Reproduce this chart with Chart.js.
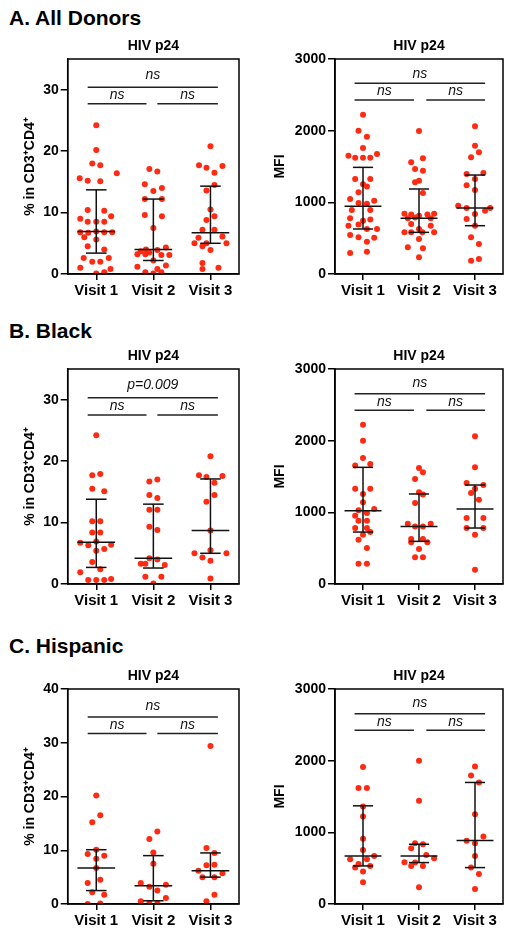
<!DOCTYPE html>
<html>
<head>
<meta charset="utf-8">
<script src="https://cdn.jsdelivr.net/npm/chart.js@4.4.1/dist/chart.umd.min.js"></script>
<style>
  body { margin: 0; background: #fff; width: 513px; height: 935px; position: relative; overflow: hidden; }
  .head { position: absolute; left: 9px; font: bold 21px "Liberation Sans", Arial, sans-serif; line-height: 20px; color: #000; }
  canvas { position: absolute; }
</style>
</head>
<body>
<div class="head" style="top:8px">A. All Donors</div>
<div class="head" style="top:321px">B. Black</div>
<div class="head" style="top:636px">C. Hispanic</div>

<canvas id="aPct" width="255" height="275" style="left:0;top:30px"></canvas>
<canvas id="aMfi" width="258" height="275" style="left:255px;top:30px"></canvas>
<canvas id="bPct" width="255" height="275" style="left:0;top:340px"></canvas>
<canvas id="bMfi" width="258" height="275" style="left:255px;top:340px"></canvas>
<canvas id="cPct" width="255" height="275" style="left:0;top:660px"></canvas>
<canvas id="cMfi" width="258" height="275" style="left:255px;top:660px"></canvas>

<script>
const visits = ['Visit 1', 'Visit 2', 'Visit 3'];
const pctTicks = [0, 10, 20, 30];
const pctTicksC = [0, 10, 20, 30, 40];
const mfiTicks = [0, 1000, 2000, 3000];

// each point: [x on visit scale (as plotted), value]
// A. All donors, % in CD3+CD4+
const aPctV1 = [[1.00,24.2],[1.00,20.2],[0.93,18.0],[1.07,17.7],[0.71,15.6],[0.85,15.2],[1.07,15.1],[1.36,16.4],[0.85,10.4],[1.14,10.3],[0.72,9.0],[1.26,9.4],[0.85,8.5],[1.00,8.5],[1.14,8.5],[0.72,6.8],[0.86,6.7],[1.00,6.9],[1.14,6.8],[1.28,6.8],[0.79,6.0],[1.00,5.6],[0.85,4.5],[1.14,4.0],[0.78,2.6],[1.22,2.6],[0.93,2.0],[1.07,2.0],[0.72,1.0],[1.25,0.8],[1.00,0.1],[1.14,0.3]];
const aPctV2 = [[1.93,17.1],[2.07,16.7],[1.85,14.6],[2.15,14.0],[2.00,13.5],[1.85,12.2],[2.15,12.2],[1.85,9.6],[2.15,9.4],[2.00,7.5],[1.78,3.7],[1.87,4.0],[1.93,3.5],[2.07,3.9],[2.22,4.3],[1.72,3.2],[1.86,3.2],[2.14,3.1],[2.28,3.1],[2.00,2.2],[1.72,1.2],[2.22,1.4],[1.86,0.3],[2.00,0.1],[2.14,0.3],[2.07,0.8]];
const aPctV3 = [[3.00,20.8],[2.80,17.7],[2.93,17.3],[3.21,17.6],[3.07,16.5],[3.07,14.5],[2.93,13.6],[3.00,10.5],[2.93,8.8],[3.07,9.4],[2.86,7.2],[3.07,7.2],[2.79,5.9],[3.21,6.1],[2.72,5.0],[2.93,5.0],[3.28,5.0],[2.86,4.5],[3.00,3.9],[2.86,1.8],[2.86,0.8],[3.14,1.0]];
const aPctStats = [[6.9,3.4,13.7],[4.0,2.2,12.2],[6.7,5.0,14.3]]; // median, q1, q3

// A. All donors, MFI
const aMfiV1 = [[1.00,2223],[0.92,2000],[1.07,1916],[1.00,1758],[0.74,1651],[0.86,1623],[1.00,1623],[1.13,1623],[1.25,1674],[0.86,1326],[1.13,1326],[1.00,1251],[1.07,1220],[0.92,1140],[0.77,1046],[1.20,1023],[0.92,990],[1.07,980],[0.80,893],[1.13,893],[0.77,777],[1.00,744],[1.13,760],[0.92,690],[0.74,674],[1.07,628],[1.25,628],[0.77,544],[0.92,512],[1.20,507],[1.07,451],[0.77,293],[1.07,312]];
const aMfiV2 = [[2.00,1995],[1.86,1558],[2.07,1614],[1.93,1465],[2.07,1442],[1.93,1279],[2.00,1300],[2.07,1130],[1.74,840],[1.86,830],[2.00,814],[2.15,830],[2.27,840],[1.80,777],[1.93,790],[2.21,777],[1.86,698],[2.21,674],[2.00,628],[1.74,581],[1.86,581],[2.06,581],[2.27,581],[2.00,488],[1.80,372],[2.07,358],[2.00,233]];
const aMfiV3 = [[3.00,2060],[3.00,1791],[3.07,1698],[2.93,1628],[2.85,1395],[3.15,1409],[3.00,1326],[3.00,1172],[2.85,1240],[2.70,953],[2.85,920],[3.27,921],[3.18,884],[3.00,837],[2.85,767],[3.00,674],[2.93,512],[3.07,419],[2.93,186],[3.07,209]];
const aMfiStats = [[944,628,1488],[777,581,1186],[921,674,1381]];

// B. Black
const bPctV1 = [[1.00,24.2],[0.93,17.7],[1.07,17.9],[0.93,15.5],[1.14,15.1],[0.93,10.2],[1.07,10.2],[0.93,8.4],[1.07,8.4],[0.72,6.7],[0.86,6.3],[1.00,6.9],[1.26,6.4],[1.00,5.4],[1.14,5.7],[0.93,3.6],[1.07,2.4],[0.72,1.9],[0.86,0.65],[1.00,0.65],[1.14,0.65],[1.26,0.8]];
const bPctV2 = [[1.93,16.7],[2.07,17.0],[1.93,14.5],[2.07,14.0],[1.93,12.1],[2.07,12.1],[1.93,9.3],[2.07,8.8],[1.93,4.2],[2.07,4.0],[1.78,3.3],[1.86,3.3],[2.20,3.1],[1.86,1.2],[2.14,1.2],[2.00,0.1]];
const bPctV3 = [[3.00,20.8],[2.80,17.7],[3.21,17.6],[2.93,17.4],[3.07,16.5],[3.07,14.5],[2.93,13.4],[3.00,8.7],[3.00,5.5],[2.72,5.0],[3.28,5.0],[2.86,4.3],[3.00,3.8],[3.00,0.9]];
const bPctStats = [[6.8,2.7,13.8],[4.2,2.6,13.0],[8.7,5.0,17.1]];

const bMfiV1 = [[1.00,2223],[1.00,2000],[1.00,1758],[0.86,1655],[1.13,1674],[0.86,1330],[1.13,1330],[1.00,1256],[1.00,1140],[0.92,1028],[1.20,1046],[1.07,990],[0.86,953],[0.92,884],[1.07,884],[0.86,781],[1.07,781],[1.00,688],[1.13,725],[0.92,618],[1.07,502],[0.92,284],[1.07,284]];
const bMfiV2 = [[2.00,1618],[2.07,1558],[1.93,1465],[2.00,1279],[2.07,1250],[1.93,1130],[1.80,842],[2.21,842],[1.93,804],[2.07,804],[1.86,628],[2.07,628],[1.86,581],[2.15,581],[2.00,488],[1.93,372],[2.07,372]];
const bMfiV3 = [[3.00,2060],[3.00,1628],[2.85,1409],[3.15,1381],[3.00,1330],[2.93,1270],[3.07,1177],[2.85,921],[3.15,921],[2.85,781],[3.15,781],[3.00,688],[3.00,200]];
const bMfiStats = [[1023,725,1628],[804,595,1256],[1046,781,1381]];

// C. Hispanic
const cPctV1 = [[1.00,20.2],[1.07,16.5],[0.93,15.2],[1.00,10.1],[0.85,9.3],[1.14,9.0],[1.00,8.4],[1.00,6.7],[1.07,4.5],[0.85,3.9],[0.93,2.2],[1.14,1.7],[0.85,0.0],[1.07,0.1]];
const cPctV2 = [[2.07,13.5],[1.93,12.1],[2.00,9.6],[2.00,7.5],[1.78,3.9],[2.22,3.6],[1.93,3.2],[2.07,2.5],[2.22,1.1],[1.78,0.5],[1.93,0.1],[2.07,0.1]];
const cPctV3 = [[3.00,29.4],[2.93,10.4],[3.07,9.5],[2.93,7.2],[3.07,7.3],[2.79,6.2],[3.21,5.7],[2.86,5.0],[3.07,5.0],[3.07,1.7],[2.93,0.5]];
const cPctStats = [[6.7,2.5,10.1],[3.4,0.6,9.0],[6.2,5.0,9.5]];

const cMfiV1 = [[1.00,1910],[0.92,1617],[1.07,1617],[1.00,1360],[1.00,1221],[1.00,909],[1.00,755],[1.20,671],[0.77,624],[1.07,624],[0.92,559],[0.86,508],[1.13,531],[1.00,452],[1.00,303]];
const cMfiV2 = [[2.00,2000],[2.00,1440],[1.93,848],[2.07,834],[1.86,778],[2.13,685],[2.27,638],[1.74,582],[1.93,578],[1.86,531],[2.07,531],[2.00,233]];
const cMfiV3 = [[3.00,1920],[2.93,1794],[3.07,1696],[3.00,1253],[3.15,941],[2.85,881],[3.00,848],[3.00,671],[2.93,508],[3.07,419],[3.00,210]];
const cMfiStats = [[671,531,1370],[671,578,834],[885,508,1696]];

// significance bars: [from, to, line value, label, label value]
const aPctSig = [[0.85,3.13,30.4,'ns',32.3],[0.85,1.88,27.7,'ns',29.2],[2.07,3.13,27.7,'ns',29.2]];
const aMfiSig = [[0.85,3.18,2660,'ns',2790],[0.85,1.91,2428,'ns',2550],[2.13,3.18,2428,'ns',2550]];
const bPctSig = [[0.85,3.13,30.3,'p=0.009',32.3],[0.85,1.88,27.5,'ns',29.0],[2.07,3.13,27.5,'ns',29.0]];
const bMfiSig = [[0.85,3.18,2655,'ns',2800],[0.85,1.91,2423,'ns',2540],[2.13,3.18,2423,'ns',2540]];
const cPctSig = [[0.85,3.13,34.8,'ns',36.9],[0.85,1.88,31.7,'ns',33.2],[2.07,3.13,31.7,'ns',33.2]];
const cMfiSig = [[0.85,3.18,2656,'ns',2800],[0.85,1.91,2423,'ns',2540],[2.13,3.18,2423,'ns',2540]];

const dotColor = '#ff2a12';
Chart.defaults.font.family = '"Liberation Sans", Arial, sans-serif';
Chart.defaults.color = '#000';

// median + IQR bars, significance bars and the box frame
const dotPlotExtras = {
  id: 'dotPlotExtras',
  afterDatasetsDraw(chart, args, opts) {
    const {ctx, chartArea: a, scales: {x, y}} = chart;
    const seg = (x1, x2, y1, y2) => {
      ctx.beginPath();
      ctx.moveTo(x.getPixelForValue(x1), y.getPixelForValue(y1));
      ctx.lineTo(x.getPixelForValue(x2), y.getPixelForValue(y2));
      ctx.stroke();
    };
    ctx.save();
    ctx.strokeStyle = '#111';
    ctx.lineWidth = 1.5;
    opts.stats.forEach((s, i) => {
      const v = i + 1;
      seg(v - 0.33, v + 0.33, s[0], s[0]);
      seg(v - 0.18, v + 0.18, s[1], s[1]);
      seg(v - 0.18, v + 0.18, s[2], s[2]);
      seg(v, v, s[1], s[2]);
    });
    ctx.strokeStyle = '#222';
    ctx.font = 'italic 14px "Liberation Sans", Arial, sans-serif';
    ctx.fillStyle = '#111';
    ctx.textAlign = 'center';
    ctx.textBaseline = 'middle';
    opts.sig.forEach(b => {
      seg(b[0], b[1], b[2], b[2]);
      ctx.fillText(b[3], x.getPixelForValue((b[0] + b[1]) / 2), y.getPixelForValue(b[4]));
    });
    ctx.strokeStyle = '#000';
    ctx.strokeRect(a.left, a.top, a.right - a.left, a.bottom - a.top);
    ctx.restore();
  }
};

function makePanel(id, groups, stats, sig, yMax, yTicks, yTitle, axisWidth, titlePad) {
  const ctx = document.getElementById(id).getContext('2d');
  return new Chart(ctx, {
    type: 'scatter',
    data: {
      datasets: groups.map((g, i) => ({
        label: visits[i],
        data: g.map(p => ({x: p[0], y: p[1]})),
        backgroundColor: dotColor,
        borderWidth: 0,
        pointRadius: 3,
        pointHoverRadius: 3
      }))
    },
    options: {
      responsive: false,
      animation: false,
      layout: {padding: {left: 0, right: id.endsWith('Pct') ? 16 : 10, top: 0, bottom: 0}},
      plugins: {
        legend: {display: false},
        tooltip: {enabled: false},
        title: {
          display: true,
          text: 'HIV p24',
          fullSize: false,
          font: {size: 14, weight: 'bold'},
          color: '#000',
          padding: {top: 8, bottom: 4.2}
        },
        dotPlotExtras: {stats: stats, sig: sig}
      },
      scales: {
        x: {
          type: 'linear',
          min: 0.5,
          max: 3.5,
          afterBuildTicks: s => { s.ticks = [1, 2, 3].map(v => ({value: v})); },
          afterFit: s => { s.height = 31; },
          ticks: {
            autoSkip: false,
            maxRotation: 0,
            padding: 2,
            font: {size: 15, weight: 'bold'},
            color: '#000',
            callback: v => visits[v - 1]
          },
          grid: {drawOnChartArea: false, color: '#000', lineWidth: 1.5, tickLength: 6},
          border: {color: '#000', width: 1.5}
        },
        y: {
          min: 0,
          max: yMax,
          afterBuildTicks: s => { s.ticks = yTicks.map(v => ({value: v})); },
          afterFit: s => { s.width = axisWidth; },
          ticks: {
            padding: 2,
            font: {size: 14, weight: 'bold'},
            color: '#000',
            callback: v => String(v)
          },
          grid: {drawOnChartArea: false, color: '#000', lineWidth: 1.5, tickLength: 7},
          border: {color: '#000', width: 1.5},
          title: {
            display: true,
            text: yTitle,
            font: {size: 14, weight: 'bold'},
            color: '#000',
            padding: {top: titlePad, bottom: 0}
          }
        }
      }
    },
    plugins: [dotPlotExtras]
  });
}

const pctTitle = '% in CD3\u207ACD4\u207A';
makePanel('aPct', [aPctV1, aPctV2, aPctV3], aPctStats, aPctSig, 35, pctTicks, pctTitle, 67.7, 21.6);
makePanel('aMfi', [aMfiV1, aMfiV2, aMfiV3], aMfiStats, aMfiSig, 3000, mfiTicks, 'MFI', 80, 16.6);
makePanel('bPct', [bPctV1, bPctV2, bPctV3], bPctStats, bPctSig, 35, pctTicks, pctTitle, 67.7, 21.6);
makePanel('bMfi', [bMfiV1, bMfiV2, bMfiV3], bMfiStats, bMfiSig, 3000, mfiTicks, 'MFI', 80, 16.6);
makePanel('cPct', [cPctV1, cPctV2, cPctV3], cPctStats, cPctSig, 40, pctTicksC, pctTitle, 67.7, 21.6);
makePanel('cMfi', [cMfiV1, cMfiV2, cMfiV3], cMfiStats, cMfiSig, 3000, mfiTicks, 'MFI', 80, 16.6);
</script>
</body>
</html>
